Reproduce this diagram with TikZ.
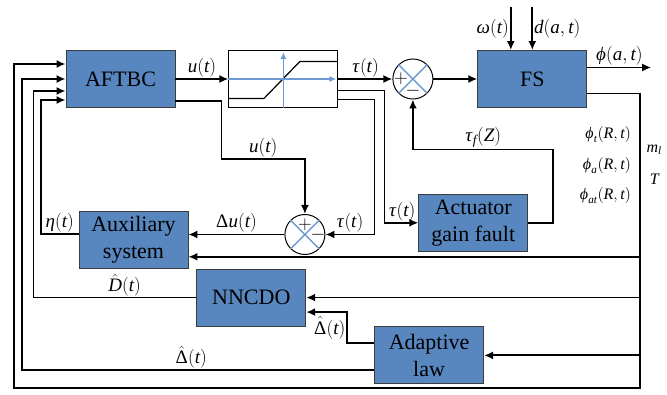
\RequirePackage{fix-cm}
\documentclass[tikz,border=0pt]{standalone}
\usepackage{mathspec}
\setmainfont{Liberation Serif}
\newfontfamily\boxfont{Liberation Serif}
\setmathsfont(Digits,Latin,Greek){Liberation Serif}
\usepackage{tikz}
\usetikzlibrary{positioning, arrows.meta}
\definecolor{boxblue}{RGB}{88,134,190}
\definecolor{crossblue}{RGB}{108,155,210}
\definecolor{boxedge}{RGB}{60,60,60}
\tikzstyle{block} = [rectangle, minimum width=109pt, minimum height=57pt, inner sep=0pt, text centered, align=center, draw=boxedge, fill=boxblue, line width=0.8pt, font=\boxfont\fontsize{22}{27}\selectfont]
\tikzstyle{satbox} = [rectangle, minimum width=109pt, minimum height=57pt, inner sep=0pt, draw=black, fill=white, line width=1pt]
\tikzstyle{sumjunc} = [circle, minimum size=40pt, inner sep=0pt, draw=black, fill=white, line width=1pt]
\tikzstyle{arrow} = [line width=1.8pt, -{Latex[length=9pt,width=8pt]}]
\tikzstyle{axisline} = [line width=1.4pt, draw=crossblue]
\tikzstyle{lbl} = [font=\fontsize{19}{21}\selectfont, inner sep=1pt]
\tikzstyle{sublbl} = [font=\fontsize{16}{18}\selectfont, inner sep=1pt]
\tikzstyle{sig} = [font=\fontsize{19}{21}\selectfont, inner sep=0pt]

\begin{document}
\begin{tikzpicture}[x=1pt, y=-1pt]
    \useasboundingbox (0,0) rectangle (667,395);

    % Nodes
    \node (aftbc) [block] at (120.5,79) {AFTBC};
    \node (sat) [satbox, right=53pt of aftbc] {};
    \node (sum1) [sumjunc, right=54pt of sat] {};
    \node (fs) [block, right=44pt of sum1] {FS};
    \node (act) [block, below=86pt of fs, xshift=-59pt] {Actuator\\gain fault};
    \node (sum2) [sumjunc, below=106pt of sat, xshift=21.5pt] {};
    \node (aux) [block, below=103pt of aftbc, xshift=13pt] {Auxiliary\\system};
    \node (nncdo) [block, below right=0pt and 8pt of aux] {NNCDO};
    \node (adapt) [block, below right=0pt and 68pt of nncdo] {Adaptive\\law};

    % Saturation curve
    \draw [line width=1.2pt, shift={(sat.center)}] (-54.5,19.5) -- (-19.5,19.5) -- (16.5,-17.5) -- (54.5,-17.5);
    \draw [axisline, -{Latex[length=7pt,width=6pt]}] (sat.west) -- ([xshift=-2pt]sat.east);
    \draw [axisline, -{Latex[length=7pt,width=6pt]}] (sat.south) -- ([yshift=-2pt]sat.north);

    % Summing junctions
    \draw [axisline] (sum1.north west) -- (sum1.south east) (sum1.north east) -- (sum1.south west);
    \draw [axisline] (sum2.north west) -- (sum2.south east) (sum2.north east) -- (sum2.south west);
    \node [sig] at ([xshift=-12pt]sum1.center) {$+$};
    \node [sig] at ([yshift=-12pt]sum1.center) {$-$};
    \node [sig] at ([yshift=10pt]sum2.center) {$+$};
    \node [sig] at ([xshift=13pt]sum2.center) {$-$};

    % Coordinates
    \coordinate (wtop) at ([xshift=-21.5pt, yshift=43pt]fs.north);
    \coordinate (dtop) at ([yshift=43pt]fs.north);
    \coordinate (phiout) at ([xshift=64pt, yshift=11.5pt]fs.east);
    \coordinate (bus) at ([xshift=53pt, yshift=-14.5pt]fs.east);
    \coordinate (bot) at (14,388);
    \coordinate (auxin) at ([yshift=-17pt]aux.east);
    \coordinate (uturn) at ([yshift=55pt]sum2.north);
    \coordinate (fturn) at ([yshift=-50pt]sum1.south);

    % Connections
    \draw [arrow] (aftbc) -- (sat) node[midway, above, lbl] {$u(t)$};
    \draw [arrow] (sat) -- (sum1) node[midway, above, lbl] {$\tau(t)$};
    \draw [arrow] (sum1) -- (fs);
    \draw [arrow] (wtop) -- (wtop |- fs.north) node[midway, left, lbl] {$\omega(t)$};
    \draw [arrow] (dtop) -- (fs.north) node[midway, right, lbl] {$d(a,t)$};
    \draw [arrow] ([yshift=11.5pt]fs.east) -- (phiout) node[midway, above, lbl] {$\varphi(a,t)$};
    \draw [arrow] ([yshift=-14.5pt]fs.east) -- (bus) |- (bot) |- ([yshift=15pt]aftbc.west);
    \draw [arrow] (bus |- auxin) -- (auxin);
    \draw [arrow] (bus |- nncdo.east) -- (nncdo.east);
    \draw [arrow] (bus |- adapt.east) -- (adapt.east);
    \draw [arrow] ([yshift=-22pt]aftbc.east) -- ++(46,0) |- (uturn) node[pos=0.75, above, lbl] {$u(t)$} -- (sum2.north);
    \draw [arrow] ([yshift=-11.5pt]sat.east) -- ++(46,0) |- (act.west) node[pos=0.76, above, lbl] {$\tau(t)$};
    \draw [arrow] ([yshift=-20.5pt]sat.east) -- ++(36,0) |- (sum2.east) node[pos=0.75, above, lbl] {$\tau(t)$};
    \draw [arrow] (act.east) -- ++(25,0) |- (fturn) node[pos=0.75, above, lbl] {$\tau_f(Z)$} -- (sum1.south);
    \draw [arrow] (sum2.west) -- (sum2.west -| aux.east) node[midway, above, lbl] {$\Delta u(t)$};
    \draw [arrow] ([yshift=6pt]aux.west) -- ++(-38,0) node[midway, above, lbl] {$\eta(t)$} |- ([yshift=-21pt]aftbc.west);
    \draw [arrow] (nncdo.west) -- ++(-163,0) node[pos=0.44, above, lbl, inner sep=0pt] {$\hat{D}(t)$} |- ([yshift=-12pt]aftbc.west);
    \draw [arrow] ([yshift=12pt]adapt.west) -- ++(-27,0) |- ([yshift=-14.5pt]nncdo.east) node[pos=0.25, left, lbl] {$\hat{\Delta}(t)$};
    \draw [arrow] ([yshift=-15pt]adapt.west) -- ++(-352,0) node[pos=0.52, above, lbl] {$\hat{\Delta}(t)$} |- (aftbc.west);

    % Bus labels
    \node (phit) [sublbl, anchor=east] at ([xshift=-8pt, yshift=-41pt]bus) {$\varphi_t(R,t)$};
    \node (phia) [sublbl, anchor=east] at ([yshift=-31pt]phit.east) {$\varphi_a(R,t)$};
    \node (phiat) [sublbl, anchor=east] at ([yshift=-30pt]phia.east) {$\varphi_{at}(R,t)$};
    \node (ml) [sublbl] at ([xshift=14pt, yshift=-56pt]bus) {$m_l$};
    \node (tt) [sublbl] at ([xshift=14pt, yshift=-86pt]bus) {$T$};
\end{tikzpicture}
\end{document}
